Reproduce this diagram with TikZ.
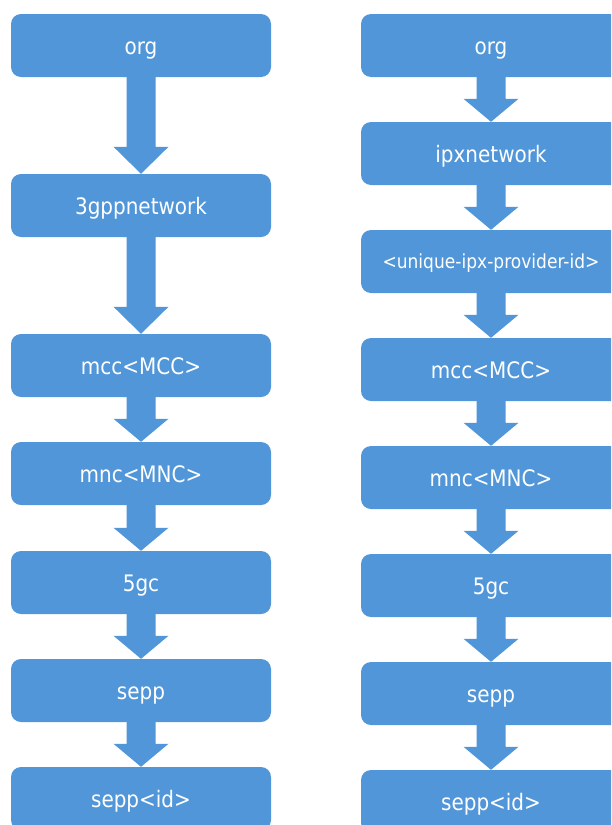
\documentclass[tikz,border=0pt]{standalone}
\usepackage{fontspec}
\setmainfont{DejaVu Sans}[FakeStretch=0.88]
\definecolor{boxblue}{RGB}{80,150,216}
\begin{document}
\begin{tikzpicture}[x=1pt,y=-1pt, box/.style={fill=boxblue,text=white,rounded corners=10pt,minimum width=260pt,minimum height=63pt,inner sep=0pt,text height=17pt,text depth=0pt,font=\fontsize{22.7}{27}\selectfont}]
\useasboundingbox (0,0) rectangle (611,825);
\clip (0,0) rectangle (611,825);
\path (141,45.5) node[box] (lorg) {org} (141,205.5) node[box] (lnet) {3gppnetwork}
(141,365.5) node[box] (lmcc) {mcc<MCC>} (141,473.5) node[box] (lmnc) {mnc<MNC>}
(141,582.5) node[box] (l5gc) {5gc} (141,690.5) node[box] (lsepp) {sepp} (141,798.5) node[box] (lid) {sepp<id>};
\path (491,45.5) node[box] (rorg) {org} (491,153.5) node[box] (ripx) {ipxnetwork}
(491,261.5) node[box,text height=13pt,font=\fontsize{19.4}{23}\selectfont] (rprov) {<unique-ipx-provider-id>}
(491,369.5) node[box] (rmcc) {mcc<MCC>} (491,477.5) node[box] (rmnc) {mnc<MNC>}
(491,585.5) node[box] (r5gc) {5gc} (491,693.5) node[box] (rsepp) {sepp} (491,801.5) node[box] (rid) {sepp<id>};
\foreach \a/\b/\h in {lorg/lnet/27, lnet/lmcc/27, lmcc/lmnc/23, lmnc/l5gc/23, l5gc/lsepp/23, lsepp/lid/23,
  rorg/ripx/23, ripx/rprov/23, rprov/rmcc/23, rmcc/rmnc/23, rmnc/r5gc/23, r5gc/rsepp/23, rsepp/rid/23}
  \fill[boxblue] ([xshift=-14.5pt]\a.south) -- ([xshift=-14.5pt,yshift=\h pt]\b.north) -- ([xshift=-27.5pt,yshift=\h pt]\b.north) -- (\b.north)
  -- ([xshift=27.5pt,yshift=\h pt]\b.north) -- ([xshift=14.5pt,yshift=\h pt]\b.north) -- ([xshift=14.5pt]\a.south) -- cycle;
\end{tikzpicture}
\end{document}
